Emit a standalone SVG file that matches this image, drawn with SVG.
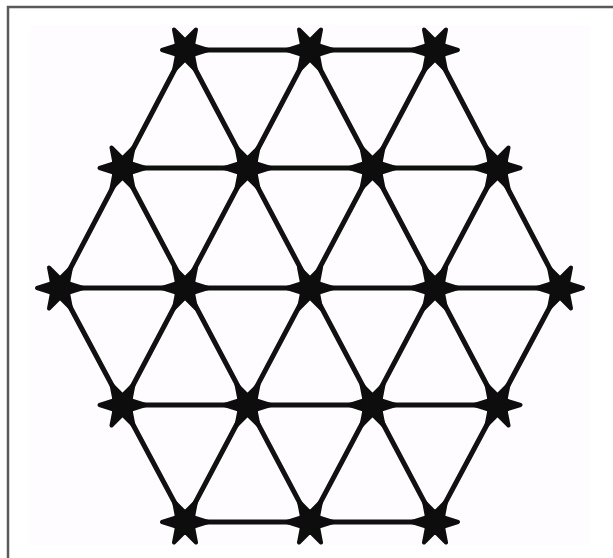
<svg xmlns="http://www.w3.org/2000/svg" xmlns:xlink="http://www.w3.org/1999/xlink" width="613" height="558" viewBox="0 0 613 558">
  <style>
    .frame { stroke: #5a5a5a; stroke-width: 2.5; fill: none; }
    .strand { stroke: #111; stroke-width: 5; stroke-linecap: round; fill: none; }
    .knot { fill: #0d0d0d; stroke: #0d0d0d; stroke-width: 4; stroke-linejoin: round; }
  </style>
  <defs>
    <g id="star">
      <polygon class="knot" points="23,0 8,4.8 11,20.5 0,9.5 -11,20.5 -8,4.8 -23,0 -8,-4.8 -11,-20.5 0,-9.5 11,-20.5 8,-4.8"/>
      <circle r="12" fill="#0d0d0d"/>
    </g>
  </defs>
  <rect x="0" y="0" width="613" height="558" fill="#ffffff"/>
  <rect x="30" y="25" width="560" height="520" fill="#fefcfe"/>
  <path class="frame" d="M8,558 V7 H613"/>

  <g id="connectors">
    <line class="strand" x1="185" y1="50" x2="435" y2="50"/>
    <line class="strand" x1="122.5" y1="168" x2="497.5" y2="168"/>
    <line class="strand" x1="60" y1="288" x2="560" y2="288"/>
    <line class="strand" x1="122.5" y1="405" x2="497.5" y2="405"/>
    <line class="strand" x1="185" y1="522" x2="435" y2="522"/>

    <line class="strand" x1="185" y1="50" x2="435" y2="522"/>
    <line class="strand" x1="310" y1="50" x2="497.5" y2="405"/>
    <line class="strand" x1="435" y1="50" x2="560" y2="288"/>
    <line class="strand" x1="122.5" y1="168" x2="310" y2="522"/>
    <line class="strand" x1="60" y1="288" x2="185" y2="522"/>

    <line class="strand" x1="435" y1="50" x2="185" y2="522"/>
    <line class="strand" x1="310" y1="50" x2="122.5" y2="405"/>
    <line class="strand" x1="185" y1="50" x2="60" y2="288"/>
    <line class="strand" x1="497.5" y1="168" x2="310" y2="522"/>
    <line class="strand" x1="560" y1="288" x2="435" y2="522"/>
  </g>

  <g id="n0-0"><use xlink:href="#star" href="#star" x="185" y="50"/></g>
  <g id="n0-1"><use xlink:href="#star" href="#star" x="310" y="50"/></g>
  <g id="n0-2"><use xlink:href="#star" href="#star" x="435" y="50"/></g>

  <g id="n1-0"><use xlink:href="#star" href="#star" x="122.5" y="168"/></g>
  <g id="n1-1"><use xlink:href="#star" href="#star" x="247.5" y="168"/></g>
  <g id="n1-2"><use xlink:href="#star" href="#star" x="372.5" y="168"/></g>
  <g id="n1-3"><use xlink:href="#star" href="#star" x="497.5" y="168"/></g>

  <g id="n2-0"><use xlink:href="#star" href="#star" x="60" y="288"/></g>
  <g id="n2-1"><use xlink:href="#star" href="#star" x="185" y="288"/></g>
  <g id="n2-2"><use xlink:href="#star" href="#star" x="310" y="288"/></g>
  <g id="n2-3"><use xlink:href="#star" href="#star" x="435" y="288"/></g>
  <g id="n2-4"><use xlink:href="#star" href="#star" x="560" y="288"/></g>

  <g id="n3-0"><use xlink:href="#star" href="#star" x="122.5" y="405"/></g>
  <g id="n3-1"><use xlink:href="#star" href="#star" x="247.5" y="405"/></g>
  <g id="n3-2"><use xlink:href="#star" href="#star" x="372.5" y="405"/></g>
  <g id="n3-3"><use xlink:href="#star" href="#star" x="497.5" y="405"/></g>

  <g id="n4-0"><use xlink:href="#star" href="#star" x="185" y="522"/></g>
  <g id="n4-1"><use xlink:href="#star" href="#star" x="310" y="522"/></g>
  <g id="n4-2"><use xlink:href="#star" href="#star" x="435" y="522"/></g>
</svg>
